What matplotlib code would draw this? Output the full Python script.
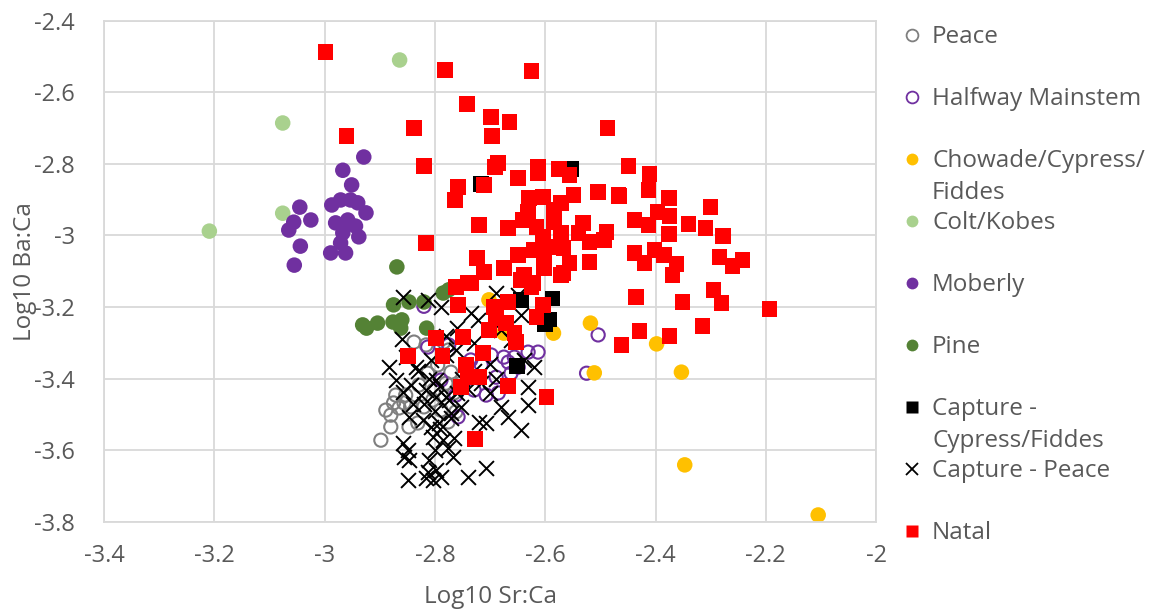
import matplotlib
matplotlib.use('Agg')
import matplotlib.pyplot as plt
from matplotlib.lines import Line2D
from matplotlib.ticker import FormatStrFormatter, MultipleLocator

plt.rcParams['font.family'] = ['Open Sans', 'DejaVu Sans']

# ---- data (Log10 Sr:Ca, Log10 Ba:Ca) ----
peace_x = [-2.898, -2.880, -2.889, -2.875, -2.865, -2.880, -2.856, -2.844, -2.831, -2.847,
           -2.820, -2.804, -2.789, -2.776, -2.762, -2.838, -2.816, -2.784, -2.775, -2.795,
           -2.771, -2.753, -2.780, -2.765, -2.813, -2.802, -2.829, -2.853, -2.871, -2.789]
peace_y = [-3.572, -3.535, -3.488, -3.468, -3.482, -3.502, -3.468, -3.479, -3.524, -3.535,
           -3.479, -3.460, -3.446, -3.521, -3.493, -3.298, -3.306, -3.298, -3.320, -3.362,
           -3.382, -3.413, -3.413, -3.440, -3.385, -3.432, -3.418, -3.446, -3.446, -3.488]

halfway_x = [-2.820, -2.813, -2.775, -2.698, -2.675, -2.656, -2.631, -2.613, -2.667, -2.649,
             -2.689, -2.707, -2.685, -2.662, -2.729, -2.758, -2.740, -2.735, -2.716, -2.504,
             -2.525, -2.762, -2.789]
halfway_y = [-3.198, -3.312, -3.306, -3.334, -3.340, -3.340, -3.326, -3.326, -3.354, -3.368,
             -3.396, -3.446, -3.440, -3.385, -3.432, -3.507, -3.390, -3.348, -3.362, -3.278,
             -3.385, -3.446, -3.404]

chowade_x = [-2.702, -2.675, -2.585, -2.518, -2.511, -2.398, -2.353, -2.347, -2.105]
chowade_y = [-3.180, -3.273, -3.273, -3.245, -3.384, -3.303, -3.382, -3.641, -3.781]

colt_x = [-2.864, -3.076, -3.076, -3.209]
colt_y = [-2.510, -2.686, -2.938, -2.988]

moberly_x = [-2.929, -2.967, -2.951, -3.045, -3.056, -3.065, -3.025, -3.044, -3.055, -2.987,
             -2.971, -2.953, -2.940, -2.925, -2.980, -2.958, -2.944, -2.967, -2.938, -2.971,
             -2.989, -2.962]
moberly_y = [-2.781, -2.818, -2.859, -2.921, -2.963, -2.985, -2.957, -3.030, -3.083, -2.915,
             -2.901, -2.901, -2.909, -2.937, -2.965, -2.957, -2.974, -2.993, -3.004, -3.021,
             -3.049, -3.049]

pine_x = [-2.869, -2.875, -2.847, -2.820, -2.785, -2.775, -2.931, -2.924, -2.904, -2.876,
          -2.860, -2.862, -2.815]
pine_y = [-3.088, -3.194, -3.186, -3.186, -3.161, -3.152, -3.250, -3.259, -3.245, -3.242,
          -3.236, -3.259, -3.259]

capture_cf_x = [-2.644, -2.587, -2.593, -2.600, -2.651, -2.553, -2.716]
capture_cf_y = [-3.181, -3.176, -3.235, -3.249, -3.365, -2.815, -2.856]

capture_peace_x = [-2.858, -2.813, -2.789, -2.735, -2.722, -2.689, -2.649, -2.644,
                   -2.884, -2.853, -2.835, -2.807, -2.780, -2.762,
                   -2.871, -2.844, -2.816, -2.798, -2.858, -2.825, -2.798, -2.775, -2.753, -2.771,
                   -2.847, -2.822, -2.807, -2.793, -2.720, -2.804, -2.786, -2.766,
                   -2.858, -2.849, -2.847, -2.856, -2.811, -2.798, -2.813, -2.804, -2.816, -2.789,
                   -2.767, -2.740, -2.707, -2.849, -2.776,
                   -2.716, -2.707, -2.667, -2.644, -2.631, -2.631, -2.638, -2.620, -2.680, -2.662,
                   -2.830, -2.810, -2.790, -2.820, -2.800, -2.780, -2.760, -2.740, -2.750, -2.730,
                   -2.700, -2.690, -2.700, -2.860, -2.780, -2.760, -2.730, -2.680, -2.840, -2.800,
                   -2.790, -2.770]
capture_peace_y = [-3.172, -3.180, -3.200, -3.217, -3.236, -3.161, -3.167, -3.222,
                   -3.368, -3.340, -3.368, -3.348, -3.334, -3.320,
                   -3.404, -3.418, -3.432, -3.404, -3.437, -3.446, -3.451, -3.460, -3.479, -3.496,
                   -3.507, -3.516, -3.535, -3.524, -3.521, -3.563, -3.571, -3.566,
                   -3.580, -3.599, -3.627, -3.619, -3.627, -3.655, -3.661, -3.683, -3.678, -3.675,
                   -3.619, -3.675, -3.650, -3.683, -3.594,
                   -3.412, -3.524, -3.507, -3.544, -3.474, -3.423, -3.348, -3.368, -3.264, -3.292,
                   -3.380, -3.400, -3.420, -3.470, -3.490, -3.450, -3.440, -3.430, -3.400, -3.380,
                   -3.360, -3.400, -3.440, -3.290, -3.280, -3.260, -3.300, -3.480, -3.470, -3.600,
                   -3.540, -3.510]

natal_x = [-2.998, -2.782, -2.625, -2.742, -2.698, -2.665, -2.696, -2.838, -2.487, -2.960,
           -2.820, -2.686, -2.691, -2.613, -2.649, -2.613, -2.575, -2.556, -2.758, -2.764,
           -2.711, -2.629, -2.604, -2.549, -2.504, -2.467, -2.571, -2.631, -2.584, -2.720,
           -2.667, -2.640, -2.616, -2.584, -2.531, -2.571, -2.540, -2.520, -2.489, -2.493,
           -2.604, -2.620, -2.595, -2.567, -2.649, -2.602, -2.556, -2.520, -2.724, -2.602,
           -2.567, -2.711, -2.675, -2.638, -2.622, -2.735, -2.816,
           -2.449, -2.411, -2.413, -2.466, -2.376, -2.300, -2.396, -2.375, -2.438, -2.413,
           -2.340, -2.309, -2.376, -2.278, -2.438, -2.402, -2.385, -2.420, -2.362, -2.369,
           -2.284, -2.260, -2.242, -2.435, -2.351, -2.295, -2.280, -2.193, -2.315, -2.429,
           -2.375, -2.462,
           -2.762, -2.740, -2.758, -2.693, -2.667, -2.644, -2.625, -2.604, -2.616, -2.689,
           -2.702, -2.671, -2.656, -2.653, -2.798, -2.749, -2.849, -2.786, -2.713, -2.744,
           -2.740, -2.720, -2.753, -2.667, -2.598, -2.727, -2.571]
natal_y = [-2.488, -2.538, -2.541, -2.633, -2.669, -2.683, -2.723, -2.700, -2.700, -2.723,
           -2.806, -2.798, -2.809, -2.809, -2.840, -2.826, -2.815, -2.831, -2.865, -2.901,
           -2.859, -2.896, -2.893, -2.887, -2.879, -2.887, -2.909, -2.935, -2.929, -2.971,
           -2.979, -2.957, -2.977, -2.963, -2.965, -2.993, -2.993, -3.018, -2.991, -3.013,
           -3.004, -3.041, -3.032, -3.035, -3.055, -3.063, -3.077, -3.074, -3.063, -3.091,
           -3.105, -3.102, -3.091, -3.111, -3.133, -3.133, -3.021,
           -2.806, -2.828, -2.873, -2.890, -2.896, -2.921, -2.935, -2.946, -2.957, -2.971,
           -2.968, -2.979, -2.996, -3.002, -3.049, -3.041, -3.055, -3.077, -3.080, -3.111,
           -3.060, -3.085, -3.069, -3.172, -3.186, -3.153, -3.189, -3.205, -3.253, -3.267,
           -3.281, -3.306,
           -3.144, -3.133, -3.195, -3.200, -3.186, -3.125, -3.144, -3.195, -3.228, -3.231,
           -3.264, -3.245, -3.273, -3.298, -3.286, -3.284, -3.337, -3.337, -3.329, -3.362,
           -3.396, -3.396, -3.424, -3.421, -3.451, -3.569, -3.111]

labels = ['Peace', 'Halfway Mainstem', 'Chowade/Cypress/\nFiddes', 'Colt/Kobes', 'Moberly',
          'Pine', 'Capture -\nCypress/Fiddes', 'Capture - Peace', 'Natal']

fig = plt.figure(figsize=(11.61, 6.10), dpi=100)
ax = fig.add_axes([0.0896, 0.1446, 0.6650, 0.8216])

text_color = '#595959'
grid_color = '#D9D9D9'

# series drawn in legend order so Natal sits on top
ax.scatter(peace_x, peace_y, s=90, facecolors='none', edgecolors='#7F7F7F', linewidths=1.5)
ax.scatter(halfway_x, halfway_y, s=90, facecolors='none', edgecolors='#7030A0', linewidths=1.5)
ax.scatter(chowade_x, chowade_y, s=125, color='#FFC000', edgecolors='none')
ax.scatter(colt_x, colt_y, s=125, color='#A9D18E', edgecolors='none')
ax.scatter(moberly_x, moberly_y, s=125, color='#7030A0', edgecolors='none')
ax.scatter(pine_x, pine_y, s=125, color='#548235', edgecolors='none')
ax.scatter(capture_cf_x, capture_cf_y, s=125, marker='s', color='black', edgecolors='none')
ax.scatter(capture_peace_x, capture_peace_y, s=115, marker='x', color='black', linewidths=1.4)
ax.scatter(natal_x, natal_y, s=125, marker='s', color='#FF0000', edgecolors='none')

ax.set_xlim(-3.4, -2.0)
ax.set_ylim(-3.8, -2.4)
ax.xaxis.set_major_locator(MultipleLocator(0.2))
ax.yaxis.set_major_locator(MultipleLocator(0.2))
ax.xaxis.set_major_formatter(FormatStrFormatter('%g'))
ax.yaxis.set_major_formatter(FormatStrFormatter('%g'))
ax.grid(True, color=grid_color, linewidth=1.3)
ax.set_axisbelow(True)
for sp in ax.spines.values():
    sp.set_color(grid_color)
    sp.set_linewidth(1.3)
ax.tick_params(length=0, labelsize=17, colors=text_color)
ax.tick_params(axis='x', pad=16)
ax.tick_params(axis='y', pad=21)
ax.set_xlabel('Log10 Sr:Ca', fontsize=17.5, color=text_color, labelpad=12)
ax.set_ylabel('Log10 Ba:Ca', fontsize=17.5, color=text_color, labelpad=-2)

# legend drawn by hand so wrapped labels overflow like the original
leg_markers = [dict(marker='o', mfc='none', mec='#7F7F7F', mew=1.3),
               dict(marker='o', mfc='none', mec='#7030A0', mew=1.3),
               dict(marker='o', mfc='#FFC000', mec='none'),
               dict(marker='o', mfc='#A9D18E', mec='none'),
               dict(marker='o', mfc='#7030A0', mec='none'),
               dict(marker='o', mfc='#548235', mec='none'),
               dict(marker='s', mfc='black', mec='none'),
               dict(marker='x', mfc='none', mec='black', mew=1.3),
               dict(marker='s', mfc='#FF0000', mec='none')]
H = 610.0
W = 1161.0
for i, (lab, mk) in enumerate(zip(labels, leg_markers)):
    yc = 35 + 62 * i
    fig.add_artist(Line2D([912 / W], [1 - yc / H], transform=fig.transFigure,
                          markersize=8.5, linestyle='none', **mk))
    fig.text(932 / W, 1 - (yc - 10) / H, lab, fontsize=17.5, color=text_color,
             va='top', ha='left', linespacing=1.45)

fig.savefig('out.png', dpi=100)
